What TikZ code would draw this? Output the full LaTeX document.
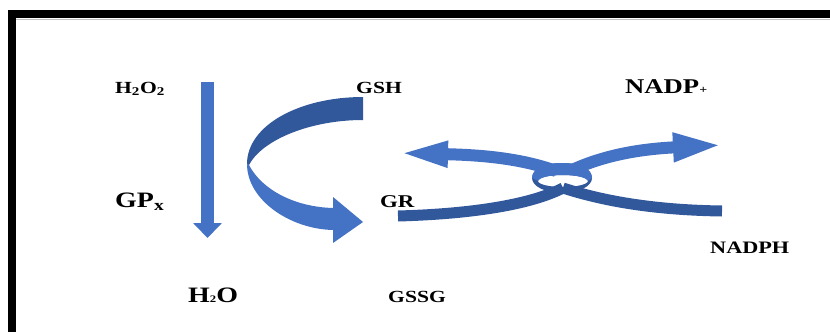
\documentclass[tikz,border=0pt]{standalone}
\usepackage{fontspec}
\newfontfamily\labelfont[FakeStretch=1.27]{Liberation Serif}
\usetikzlibrary{arrows.meta}
\definecolor{ribbon}{RGB}{68,114,196}
\definecolor{ribbondark}{RGB}{50,88,156}
\tikzset{
  chem/.style={inner sep=0pt, anchor=base west, font=\labelfont\bfseries\fontsize{#1}{#1}\selectfont},
  downarrow/.style={draw=ribbon, line width=13pt, -{Triangle[length=15pt, width=28pt]}},
  bandlight/.style={draw=ribbon, line width=12pt},
  banddark/.style={draw=ribbondark, line width=11pt},
  lefthead/.style={-{Triangle[length=51pt, width=23pt]}},
  righthead/.style={-{Triangle[length=50pt, width=26pt]}}
}
\begin{document}
\begin{tikzpicture}[x=1pt, y=-1pt]
  \useasboundingbox (0,0) rectangle (830,332);
  \fill[black] (8,10) rectangle (830,18);
  \fill[black] (8,10) rectangle (16,332);
  \draw[black!25, line width=1pt] (16,19) -- (830,19);

  \node[chem=17] (h2o2) at (115,93) {H\textsubscript{2}O\textsubscript{2}};
  \node[chem=22] (gpx) at (115,207) {GP\textsubscript{x}};
  \node[chem=22] (h2o) at (188,302) {H{\fontsize{10}{10}\selectfont 2}O};
  \node[chem=17] (gsh) at (356,93) {GSH};
  \node[chem=18] (gr) at (380,207) {GR};
  \node[chem=17] (gssg) at (388,302) {GSSG};
  \node[chem=21] (nadp) at (625,93) {NADP{\fontsize{11}{11}\selectfont +}};
  \node[chem=17.5] (nadph) at (710,253) {NADPH};

  \coordinate (gpxtop) at (207.5,82);
  \coordinate (gpxtip) at (207.5,238);
  \draw[downarrow] (gpxtop) -- (gpxtip);

  \fill[ribbondark] (363,97) .. controls (300,97) and (247,125) .. (247,164)
    -- (249,165) .. controls (262,140) and (310,120) .. (363,120) -- cycle;
  \fill[ribbon] (247,164) .. controls (247,200) and (290,229) .. (333,230)
    -- (333,243) -- (363,222) -- (333,197) -- (333,208)
    .. controls (295,207) and (262,190) .. (249,165) -- cycle;

  \coordinate (grend) at (398,216);
  \coordinate (nadphend) at (722,211);
  \coordinate (knot) at (563,188);
  \coordinate (lefttip) at (397,153);
  \coordinate (righttip) at (723,145);
  \draw[banddark] (grend) .. controls (470,214) and (530,205) .. (knot);
  \draw[banddark] (nadphend) .. controls (650,210) and (600,200) .. (knot);
  \fill[ribbondark, even odd rule] (562,178) ellipse [x radius=30, y radius=15]
    (563,181) ellipse [x radius=25, y radius=6];
  \fill[ribbon] (532,178) .. controls (532,168) and (545,163) .. (562,163)
    .. controls (580,163) and (592,168) .. (592,178)
    -- (588,181) .. controls (586,177) and (575,175) .. (563,175)
    .. controls (550,175) and (540,177) .. (538,181) -- cycle;
  \draw[bandlight, lefthead] (556,171) .. controls (520,158) and (480,155) .. (lefttip);
  \draw[bandlight, righthead] (572,170) .. controls (605,155) and (640,149) .. (righttip);
\end{tikzpicture}
\end{document}
